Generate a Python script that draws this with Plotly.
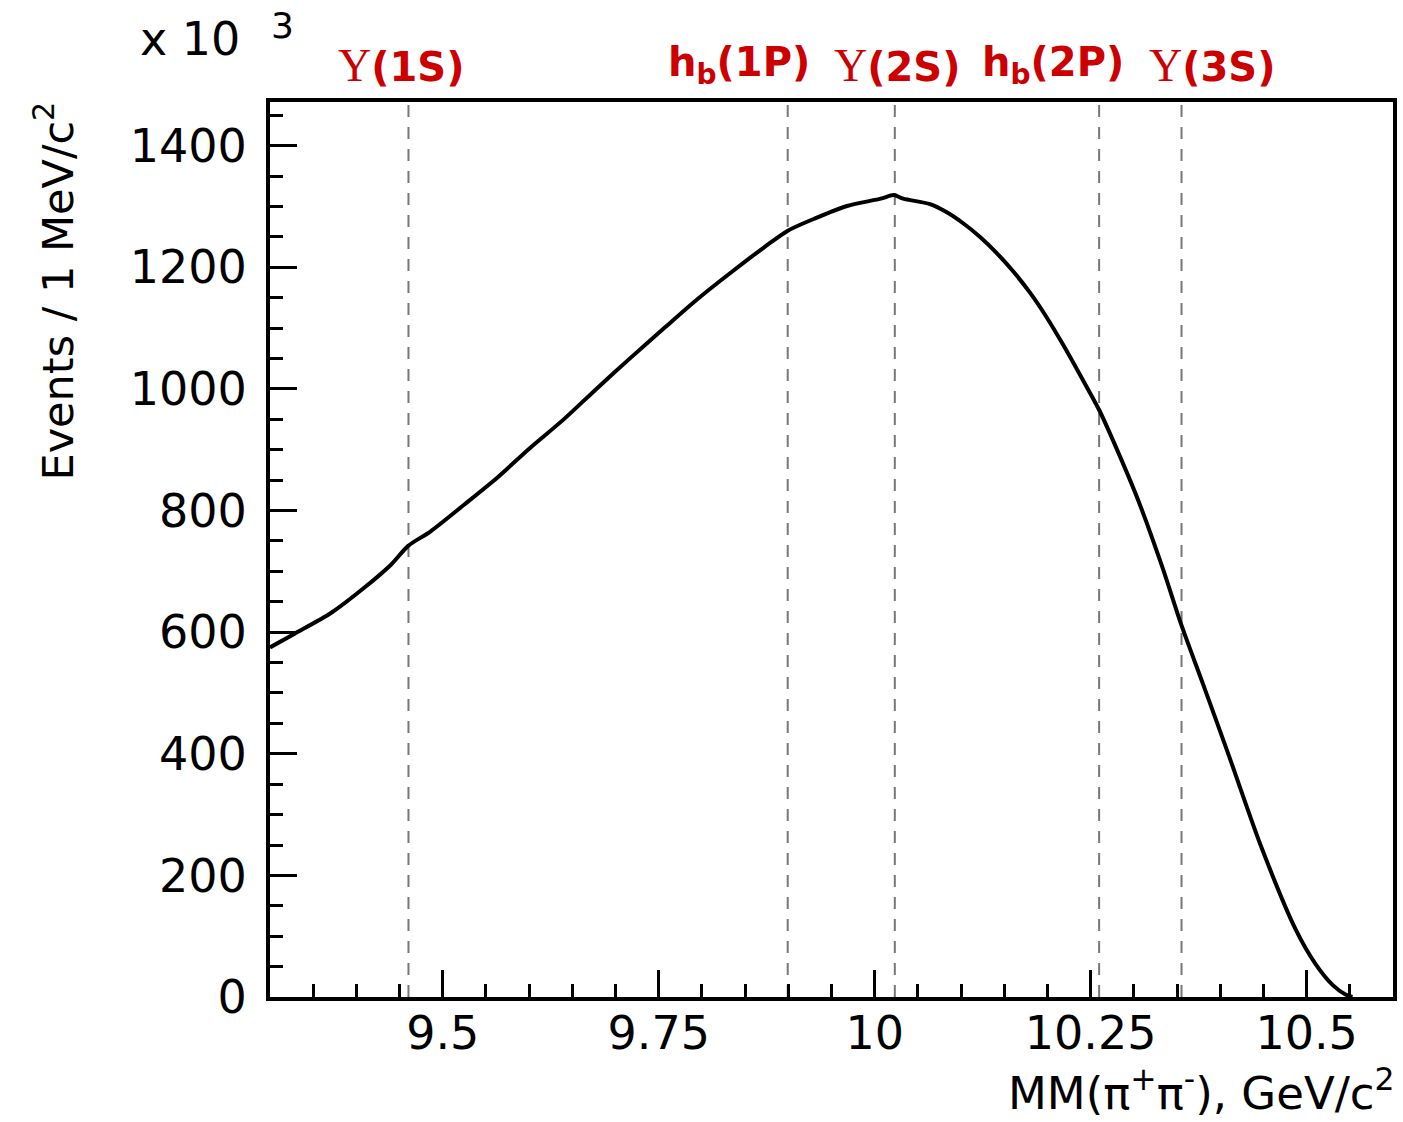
import plotly.graph_objects as go

# ---- data ----
mass = [9.300, 9.329, 9.371, 9.409, 9.440, 9.460, 9.486, 9.525, 9.563, 9.601,
        9.640, 9.680, 9.718, 9.757, 9.795, 9.834, 9.872, 9.899, 9.930, 9.968,
        10.007, 10.022, 10.033, 10.064, 10.083, 10.102, 10.122, 10.141, 10.160,
        10.180, 10.199, 10.218, 10.237, 10.260, 10.276, 10.305, 10.333, 10.355,
        10.380, 10.410, 10.448, 10.487, 10.510, 10.530, 10.545, 10.553]
events_k = [575, 598, 632, 673, 711, 742, 766, 810, 854, 903,
            950, 1003, 1052, 1101, 1148, 1192, 1233, 1260, 1280, 1301,
            1313, 1319, 1313, 1304, 1291, 1273, 1250, 1224, 1194,
            1158, 1118, 1073, 1025, 965, 915, 817, 707, 612,
            515, 397, 245, 112, 55, 20, 4, 0]

res_names = ["Υ(1S)", "h<sub>b</sub>(1P)", "Υ(2S)", "h<sub>b</sub>(2P)", "Υ(3S)"]
res_mass = [9.4603, 9.8993, 10.0233, 10.2598, 10.3552]
res_label_shift = [-7, -49, 2, -46, 30]

x_tickvals = [9.5, 9.75, 10.0, 10.25, 10.5]
x_ticktext = ["9.5", "9.75", "10", "10.25", "10.5"]
y_tickvals = [0, 200, 400, 600, 800, 1000, 1200, 1400]

RED = "#cc0000"
FONT = "DejaVu Sans"

fig = go.Figure()
fig.add_trace(go.Scatter(x=mass, y=events_k, mode="lines",
                         line=dict(color="black", width=4, shape="spline", smoothing=0.8),
                         showlegend=False, hoverinfo="skip"))

for m in res_mass:
    fig.add_shape(type="line", xref="x", yref="paper", x0=m, x1=m, y0=0, y1=1,
                  line=dict(color="#777777", width=2, dash="12px,10px"), layer="below")

for name, m, sh in zip(res_names, res_mass, res_label_shift):
    txt = name.replace("Υ", "<span style='font-family:Liberation Serif;font-weight:normal;font-size:46px'>Υ</span>")
    fig.add_annotation(x=m, xref="x", y=1, yref="paper", yshift=9, xshift=sh,
                       text="<b>" + txt + "</b>", showarrow=False,
                       xanchor="center", yanchor="bottom",
                       font=dict(family=FONT, size=40, color=RED))

# axis titles and exponent
fig.add_annotation(xref="paper", yref="paper", x=1, xshift=4, y=0, yshift=-125, xanchor="right", yanchor="bottom",
                   text="MM(π<sup>+</sup>π<sup>-</sup>), GeV/c<sup>2</sup>", showarrow=False,
                   font=dict(family=FONT, size=45, color="black"))
fig.add_annotation(xref="paper", yref="paper", x=0, xshift=-246, y=1, yshift=2,
                   xanchor="left", yanchor="top", textangle=-90,
                   text="Events / 1 MeV/c<sup>2</sup>", showarrow=False,
                   font=dict(family=FONT, size=43, color="black"))
fig.add_annotation(xref="paper", yref="paper", x=0, xshift=-132, y=1, yshift=34,
                   xanchor="left", yanchor="bottom",
                   text="x 10", showarrow=False,
                   font=dict(family=FONT, size=46, color="black"))
fig.add_annotation(xref="paper", yref="paper", x=0, xshift=-1, y=1, yshift=54,
                   xanchor="left", yanchor="bottom",
                   text="3", showarrow=False,
                   font=dict(family=FONT, size=36, color="black"))

fig.update_xaxes(range=[9.3, 10.6], tickvals=x_tickvals, ticktext=x_ticktext,
                 ticks="inside", ticklen=27, tickwidth=3, tickcolor="black",
                 minor=dict(dtick=0.05, tick0=9.3, ticks="inside", ticklen=13, tickwidth=3, tickcolor="black"),
                 showline=True, linecolor="black", linewidth=4, mirror=True,
                 showgrid=False, zeroline=False, ticklabelstandoff=-7,
                 tickfont=dict(family=FONT, size=46, color="black"))
fig.update_yaxes(range=[0, 1472], tickvals=y_tickvals,
                 ticks="inside", ticklen=27, tickwidth=3, tickcolor="black",
                 minor=dict(dtick=50, tick0=0, ticks="inside", ticklen=13, tickwidth=3, tickcolor="black"),
                 showline=True, linecolor="black", linewidth=4, mirror=True,
                 showgrid=False, zeroline=False, ticklabelstandoff=10,
                 tickfont=dict(family=FONT, size=46, color="black"))

fig.update_layout(width=1403, height=1122, plot_bgcolor="white", paper_bgcolor="white",
                  margin=dict(l=270, r=6, t=102, b=125))

fig.write_html("out.html")
